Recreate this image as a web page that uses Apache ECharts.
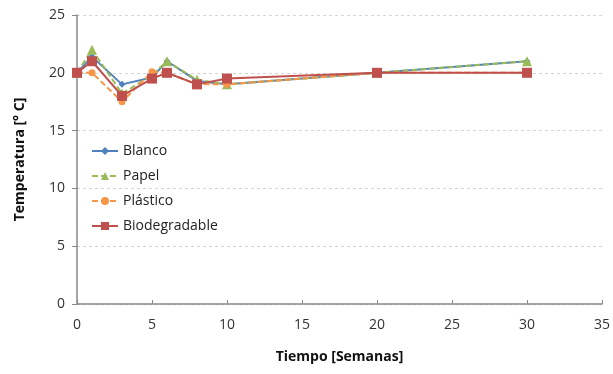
<!DOCTYPE html>
<html><head><meta charset="utf-8">
<script src="https://cdn.jsdelivr.net/npm/echarts@6/dist/echarts.min.js"></script>
<style>html,body{margin:0;padding:0;background:#fff}#c{width:613px;height:374px}</style>
</head><body><div id="c"></div>
<script>
const weeks = [0, 1, 3, 5, 6, 8, 10, 20, 30];
const blanco = [20, 21.4, 19.0, 19.6, 21.0, 19.3, 19.0, 20, 21];
const papel = [20, 22.0, 18.2, 19.8, 21.0, 19.4, 19.0, 20, 21];
const plastico = [20, 20.0, 17.5, 20.1, 20.0, 19.0, 19.0, 20, 20];
const biodegradable = [20, 21.0, 18.0, 19.5, 20.0, 19.0, 19.5, 20, 20];
const xTicks = [0, 5, 10, 15, 20, 25, 30, 35];
const yTicks = [0, 5, 10, 15, 20, 25];

const pair = arr => weeks.map((w, i) => [w, arr[i]]);
const font = 'Open Sans, Liberation Sans, sans-serif';
const mk = (name, data, color, symbol, size, dashed) => ({
  name, type: 'line', data: pair(data), symbol, symbolSize: size,
  itemStyle: { color }, lineStyle: { color, width: 2, type: dashed ? [6, 3] : 'solid' },
  emphasis: { disabled: true }, animation: false
});
const chart = echarts.init(document.getElementById('c'));
chart.setOption({
  animation: false,
  grid: { left: 77, right: 11, top: 15, bottom: 70 },
  legend: {
    orient: 'vertical', left: 86, top: 139, itemGap: 11, itemWidth: 26, itemHeight: 10,
    textStyle: { fontFamily: font, fontSize: 14, color: '#222' },
    data: ['Blanco', 'Papel', 'Plástico', 'Biodegradable']
  },
  xAxis: {
    type: 'value', min: xTicks[0], max: xTicks[xTicks.length - 1], interval: 5,
    name: 'Tiempo [Semanas]', nameLocation: 'middle', nameGap: 46,
    nameTextStyle: { fontFamily: font, fontWeight: 'bold', fontSize: 14, color: '#111' },
    axisLine: { lineStyle: { color: '#888', width: 1.5 } },
    axisTick: { inside: true, length: 4, lineStyle: { color: '#888' } },
    axisLabel: { fontFamily: font, fontSize: 14, color: '#333', margin: 14 },
    splitLine: { show: false }
  },
  yAxis: {
    type: 'value', min: yTicks[0], max: yTicks[yTicks.length - 1], interval: 5,
    name: 'Temperatura [° C]', nameLocation: 'middle', nameGap: 50, nameRotate: 90,
    nameTextStyle: { fontFamily: font, fontWeight: 'bold', fontSize: 14, color: '#111' },
    axisLine: { show: true, lineStyle: { color: '#888', width: 1.5 } },
    axisTick: { show: true, length: 5, lineStyle: { color: '#888' } },
    axisLabel: { fontFamily: font, fontSize: 14, color: '#333', margin: 12 },
    splitLine: { show: true, lineStyle: { color: '#d4d4d4', type: [3, 3] } }
  },
  series: [
    mk('Blanco', blanco, '#4F81BD', 'diamond', 7, false),
    mk('Papel', papel, '#9BBB59', 'triangle', 10, true),
    mk('Plástico', plastico, '#F79646', 'circle', 7, true),
    mk('Biodegradable', biodegradable, '#C0504D', 'rect', 10, false)
  ]
});
</script></body></html>
